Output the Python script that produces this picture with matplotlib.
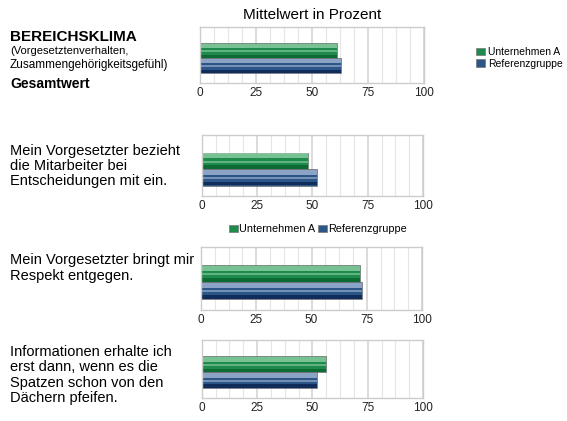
import matplotlib.pyplot as plt
from matplotlib.patches import Patch

plt.rcParams['font.family'] = ['Liberation Sans', 'DejaVu Sans']

# data
series = ['Unternehmen A', 'Referenzgruppe']
unternehmen = [61, 48, 72, 56]
referenz = [63, 52, 73, 52]
xticks = [0, 25, 50, 75, 100]

green = ['#1e8a4c', '#8fd0a4', '#0b6b33']   # mid, light, dark
blue = ['#2c5588', '#a4b8d4', '#0f2c5a']

fig = plt.figure(figsize=(5.67, 4.21), dpi=100)

boxes = [
    [0.3527, 0.803, 0.395, 0.133],
    [0.356, 0.534, 0.390, 0.145],
    [0.3545, 0.2637, 0.390, 0.150],
    [0.356, 0.0546, 0.390, 0.138],
]


def glossy_bar(ax, y, w, h, cols):
    mid, light, dark = cols
    ax.barh(y, w, height=h, color=mid, edgecolor='#777777', linewidth=0.5, left=0)
    ax.barh(y + h * 0.3, w, height=h * 0.3, color=light, linewidth=0, alpha=0.8)
    ax.barh(y - h * 0.05, w, height=h * 0.12, color=light, linewidth=0, alpha=0.6)
    ax.barh(y - h * 0.38, w, height=h * 0.2, color=dark, linewidth=0)


for i, box in enumerate(boxes):
    ax = fig.add_axes(box)
    ax.set_xlim(0, 100)
    ax.set_ylim(0, 1)
    for v in range(0, 101, 25):
        ax.axvline(v, color='#d4d4d4', linewidth=1.2, zorder=0)
    for k in range(16):
        v = k * 6.25
        if v % 25:
            ax.axvline(v, color='#e6e6e6', linewidth=0.8, zorder=0)
    glossy_bar(ax, 0.58, unternehmen[i], 0.27, green)
    glossy_bar(ax, 0.31, referenz[i], 0.27, blue)
    ax.set_yticks([])
    ax.set_xticks(xticks)
    ax.tick_params(axis='x', length=0, labelsize=8.5, pad=3, colors='#222222')
    for s in ax.spines.values():
        s.set_color('#cccccc')
        s.set_linewidth(1.0)
    if i == 0:
        ax.set_title('Mittelwert in Prozent', fontsize=11, pad=6)

# left-side texts
fig.text(10 / 567, 1 - 37 / 421, 'BEREICHSKLIMA', fontsize=11, fontweight='bold', va='center')
fig.text(10 / 567, 1 - 51 / 421, '(Vorgesetztenverhalten,', fontsize=8, va='center')
fig.text(10 / 567, 1 - 65 / 421, 'Zusammengehörigkeitsgefühl)', fontsize=8.5, va='center')
fig.text(10 / 567, 1 - 84 / 421, 'Gesamtwert', fontsize=10, fontweight='bold', va='center')

fig.text(10 / 567, 1 - 166 / 421,
         'Mein Vorgesetzter bezieht\ndie Mitarbeiter bei\nEntscheidungen mit ein.',
         fontsize=10.5, va='center', linespacing=1.12)
fig.text(10 / 567, 1 - 268 / 421,
         'Mein Vorgesetzter bringt mir\nRespekt entgegen.',
         fontsize=10.5, va='center', linespacing=1.12)
fig.text(10 / 567, 1 - 375 / 421,
         'Informationen erhalte ich\nerst dann, wenn es die\nSpatzen schon von den\nDächern pfeifen.',
         fontsize=10.5, va='center', linespacing=1.12)

handles = [Patch(facecolor=green[0], edgecolor='#777777', linewidth=0.5),
           Patch(facecolor=blue[0], edgecolor='#777777', linewidth=0.5)]
fig.legend(handles, series, loc='center left', bbox_to_anchor=(476 / 567, 1 - 58 / 421),
           frameon=False, fontsize=7.5, handlelength=0.9, handleheight=0.7,
           handletextpad=0.3, labelspacing=0.1, borderpad=0, borderaxespad=0)
fig.legend(handles, series, loc='center', bbox_to_anchor=(318 / 567, 1 - 229 / 421),
           frameon=False, fontsize=7.8, ncol=2, handlelength=0.8, handleheight=0.6,
           handletextpad=0.1, columnspacing=0.3, borderpad=0, borderaxespad=0)

plt.savefig('out.png', dpi=100)
